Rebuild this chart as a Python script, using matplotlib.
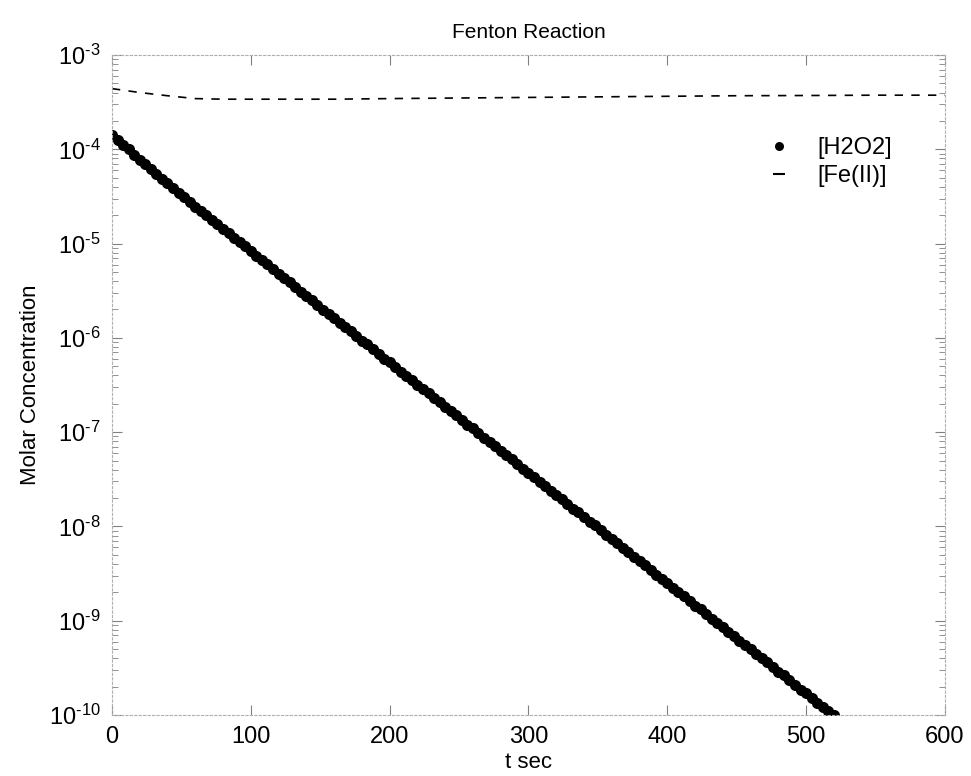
import numpy as np
import matplotlib
matplotlib.use("Agg")
import matplotlib.pyplot as plt
from matplotlib.lines import Line2D
from matplotlib.ticker import LogLocator, FuncFormatter, MultipleLocator, NullFormatter

plt.rcParams.update({
    "font.family": ["Liberation Sans", "DejaVu Sans"],
    "mathtext.fontset": "custom",
    "mathtext.rm": "Liberation Sans",
    "mathtext.it": "Liberation Sans",
    "mathtext.bf": "Liberation Sans:bold",
})

# sampled times (s) for [H2O2]
t_h2o2 = [
    0, 4, 8, 12, 16, 20, 24, 28, 32, 36, 40, 44, 48, 52, 56, 60, 64, 68, 72, 76,
    80, 84, 88, 92, 96, 100, 104, 108, 112, 116, 120, 124, 128, 132, 136, 140,
    144, 148, 152, 156, 160, 164, 168, 172, 176, 180, 184, 188, 192, 196, 200,
    204, 208, 212, 216, 220, 224, 228, 232, 236, 240, 244, 248, 252, 256, 260,
    264, 268, 272, 276, 280, 284, 288, 292, 296, 300, 304, 308, 312, 316, 320,
    324, 328, 332, 336, 340, 344, 348, 352, 356, 360, 364, 368, 372, 376, 380,
    384, 388, 392, 396, 400, 404, 408, 412, 416, 420, 424, 428, 432, 436, 440,
    444, 448, 452, 456, 460, 464, 468, 472, 476, 480, 484, 488, 492, 496, 500,
    504, 508, 512, 516, 520,
]
# log10 of [H2O2]
log_h2o2 = [
    -3.85, -3.90, -3.95, -4.00, -4.06, -4.11, -4.16, -4.21, -4.26, -4.31,
    -4.36, -4.41, -4.46, -4.51, -4.56, -4.61, -4.65, -4.70, -4.75, -4.79,
    -4.84, -4.89, -4.94, -4.98, -5.03, -5.08, -5.13, -5.17, -5.22, -5.27,
    -5.32, -5.36, -5.41, -5.46, -5.51, -5.56,
    -5.60, -5.65, -5.70, -5.75, -5.79, -5.84, -5.89, -5.93, -5.98, -6.03,
    -6.07, -6.12, -6.17, -6.22, -6.26, -6.31, -6.36, -6.40, -6.45, -6.50,
    -6.54, -6.59, -6.64, -6.68, -6.73, -6.78, -6.82, -6.87, -6.92, -6.96,
    -7.01, -7.06, -7.10, -7.15, -7.20, -7.24, -7.29, -7.34, -7.39, -7.43,
    -7.48, -7.53, -7.57, -7.62, -7.67, -7.71, -7.76, -7.81, -7.85, -7.90,
    -7.95, -7.99, -8.04, -8.09, -8.13, -8.18, -8.23, -8.27, -8.32, -8.37,
    -8.41, -8.46, -8.51, -8.56, -8.60, -8.65, -8.70, -8.74, -8.79, -8.84,
    -8.88, -8.93, -8.98, -9.02, -9.07, -9.12, -9.16, -9.21, -9.26, -9.30,
    -9.35, -9.40, -9.44, -9.49, -9.54, -9.58, -9.63, -9.68, -9.73, -9.77,
    -9.82, -9.87, -9.91, -9.96, -10.00,
]

# [Fe(II)] dashed curve
t_fe = [0, 5, 20, 40, 60, 80, 120, 160, 200, 250, 300, 350, 400, 450, 500, 550, 600]
c_fe = [4.4e-4, 4.3e-4, 4.0e-4, 3.7e-4, 3.45e-4, 3.4e-4, 3.4e-4, 3.4e-4, 3.45e-4,
        3.5e-4, 3.55e-4, 3.6e-4, 3.65e-4, 3.7e-4, 3.72e-4, 3.75e-4, 3.75e-4]

c_h2o2 = [10 ** v for v in log_h2o2]


def pow10_label(val, pos):
    # MATLAB-style 10^-n with a short hyphen in the exponent
    e = int(round(np.log10(val)))
    return r"$10^{\text{-%d}}$" % -e if e < 0 else r"$10^{%d}$" % e


fig = plt.figure(figsize=(9.71, 7.76), dpi=100)
ax = fig.add_axes([0.1153, 0.0786, 0.8579, 0.8505])

ax.semilogy(t_h2o2, c_h2o2, linestyle="none", marker="o", markersize=8,
            color="black", markeredgewidth=0)
ax.semilogy(t_fe, c_fe, color="black", linewidth=1.2, dashes=(5, 5))

ax.set_xlim(0, 600)
ax.set_ylim(1e-10, 1e-3)
ax.xaxis.set_major_locator(MultipleLocator(100))
ax.yaxis.set_major_locator(LogLocator(base=10, numticks=20))
ax.yaxis.set_minor_locator(LogLocator(base=10, subs=np.arange(2, 10), numticks=20))
ax.yaxis.set_major_formatter(FuncFormatter(pow10_label))
ax.yaxis.set_minor_formatter(NullFormatter())

for s in ax.spines.values():
    s.set_color("#b0b0b0")
    s.set_linewidth(0.8)
    s.set_linestyle((0, (2, 2)))

ax.tick_params(which="both", direction="in", top=True, right=True, color="#808080")
ax.tick_params(which="major", length=7, width=0.8, labelsize=17, pad=8)
ax.tick_params(which="minor", length=4, width=0.6)

ax.set_title("Fenton Reaction", fontsize=15, pad=12)
ax.set_xlabel("t sec", fontsize=16, labelpad=3)
ax.set_ylabel("Molar Concentration", fontsize=16, labelpad=6)

handles = [
    Line2D([], [], linestyle="none", marker="o", markersize=6.5, color="black",
           markeredgewidth=0),
    Line2D([], [], linestyle="none", marker="_", markersize=9, markeredgewidth=1.5,
           color="black"),
]
ax.legend(handles, ["[H2O2]", "[Fe(II)]"], loc="upper left",
          bbox_to_anchor=(0.78, 0.876), frameon=False, fontsize=17,
          handlelength=1.5, handletextpad=0.85, labelspacing=0.27,
          borderpad=0, borderaxespad=0)

fig.savefig("out.png", dpi=100, facecolor="white")
